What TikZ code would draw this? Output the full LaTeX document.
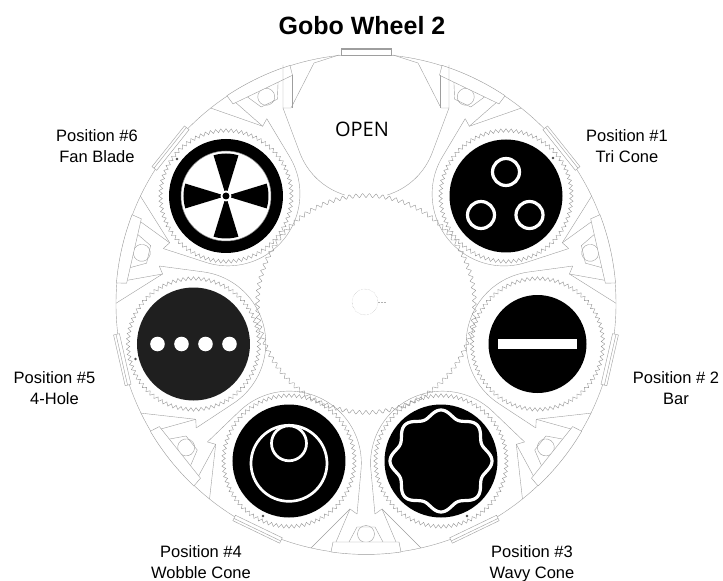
\documentclass[tikz,border=0pt]{standalone}
\usepackage{fontspec}
\setmainfont{Liberation Sans}
\newfontfamily\openfont{Open Sans}
\usetikzlibrary{calc}

\begin{document}
\begin{tikzpicture}[x=1pt,y=1pt,
    wire/.style={draw=black!38, line width=0.4pt},
    block/.style={wire, fill=white},
    gear/.style={draw=black!42, line width=0.4pt},
    disk/.style={fill=black},
    ring/.style={draw=white, line width=2.7pt},
    thickring/.style={draw=white, line width=3.2pt},
    speck/.style={fill=black!70},
    label/.style={align=center, font=\fontsize{16.5}{21}\selectfont, inner sep=0pt}
]
\useasboundingbox (-366,-277) rectangle (357,304);

\coordinate (hub) at (0,0);
\coordinate (tri) at (140,108);
\coordinate (bar) at (171.5,-40);
\coordinate (wavy) at (75,-157);
\coordinate (wobble) at (-77,-157);
\coordinate (hole) at (-172.5,-40);
\coordinate (fan) at (-140,108);

\draw[wire] (hub) circle (250);

\foreach \a/\s in {-90/1,-90/-1,-38.57/1,-38.57/-1,12.86/1,12.86/-1,64.29/1,115.71/-1,167.14/1,167.14/-1,218.57/1,218.57/-1} {
\begin{scope}[rotate=\a-90]
\draw[wire] (\s*9,210) -- (\s*16,205) -- (\s*55,244);
\draw[wire] (\s*16,205) -- (\s*30,238);
\end{scope}
}

\foreach \a in {-90,-38.57,12.86,64.29,115.71,167.14,218.57} {
\begin{scope}[rotate=\a-90]
\draw[wire] (-17,238) -- (-9,223) -- (9,223) -- (17,238);
\draw[wire] (0,230) circle (8.5);
\draw[block] (35,248) -- (33,238) -- (-33,238) -- (-35,248) arc[start angle=98,end angle=82,radius=250.5];
\end{scope}
}

\foreach \a in {-64.29,-12.86,38.57,141.43,192.86,244.29} {
\begin{scope}[rotate=\a-90]
\draw[wire] (83,193) -- (67.7,152) arc[start angle=-20,end angle=-160,radius=72] -- (-83,193);
\draw[block] (-26,247) rectangle (26,253);
\draw[wire] (-26,250.5) -- (26,250.5);
\end{scope}
}

\draw[wire] (-83,196) -- (-66.5,152) arc[start angle=200,end angle=253,radius=70];
\draw[wire] (83,196) -- (66.5,152) arc[start angle=-20,end angle=-73,radius=70];
\draw[wire] (-27,249) -- (-52,241) -- (-75,196) -- (-83,196) -- (-83,239);
\draw[wire] (-74,196) -- (-74,229);
\draw[wire] (27,249) -- (52,241) -- (75,196) -- (83,196) -- (83,239);
\draw[wire] (74,196) -- (74,229);
\draw[block] (-25,249) rectangle (25,256);
\draw[wire] (-25,254.5) -- (25,254.5);

\draw[gear] plot[smooth,domain=0:408,samples=409] ({(108.5+2*cos(90*mod(\x,4)))*cos(0.88235*\x)},{(108.5+2*cos(90*mod(\x,4)))*sin(0.88235*\x)});
\foreach \n in {tri,bar,wavy,wobble,hole,fan} {
\begin{scope}[shift={(\n)}]
\draw[gear] plot[smooth,domain=0:320,samples=321] ({(65.5+1.8*cos(90*mod(\x,4)))*cos(1.125*\x)},{(65.5+1.8*cos(90*mod(\x,4)))*sin(1.125*\x)});
\end{scope}
}

\draw[black!30, line width=0.4pt, densely dotted] (-1,2) circle (13);
\draw[black!30, line width=0.4pt, densely dotted] (12,1.5) -- (20,1.5);

\fill[disk] (tri) circle (56.5);
\draw[thickring] ($(tri)+(0,24)$) circle (13.5);
\draw[thickring] ($(tri)+(-25,-19)$) circle (13.5);
\draw[thickring] ($(tri)+(23.5,-19)$) circle (13.5);

\fill[disk] (bar) circle (49);
\fill[white] ($(bar)+(-39.5,-5.3)$) rectangle ($(bar)+(39.5,5.3)$);

\fill[disk] (wavy) circle (56.5);
\draw[thickring] plot[domain=0:360,samples=161,smooth] ({75+(47.5+3.5*cos(8*\x))*cos(\x)},{-157+(47.5+3.5*cos(8*\x))*sin(\x)}) -- cycle;

\fill[disk] (wobble) circle (56.5);
\draw[ring] ($(wobble)+(0,-2.3)$) circle (38);
\draw[ring] ($(wobble)+(0,17.7)$) circle (17.5);

\fill[black!88] (hole) circle (56.5);
\foreach \h in {-36,-12,12,36} {
\fill[white] ($(hole)+(\h,0)$) circle (7.3);
}

\fill[disk] (fan) circle (57);
\filldraw[fill=white, draw=black!45, line width=0.5pt] (fan) circle (45);
\foreach \t in {0,90,180,270} {
\begin{scope}[shift={(fan)}, rotate=\t]
\fill[disk] (0,0) -- (-17:42.5) arc[start angle=-17,end angle=17,radius=42.5] -- cycle;
\end{scope}
}
\fill[white] (fan) circle (5.5);
\fill[disk] (fan) circle (3.5);

\fill[speck] ($(tri)+(47,38)$) circle (1.3);
\fill[speck] ($(fan)+(-49,37)$) circle (1.3);
\fill[speck] ($(wavy)+(26,-55)$) circle (1.3);
\fill[speck] ($(wobble)+(-26,-55)$) circle (1.3);
\fill[speck] ($(hole)+(-58,-15)$) circle (1.3);

\node[font=\bfseries\fontsize{25}{28}\selectfont, inner sep=0pt] (title) at (-4,278) {Gobo Wheel 2};
\node[font=\openfont\fontsize{20}{23}\selectfont, inner sep=0pt] (openlabel) at (-4,175) {OPEN};
\node[label] (pos1) at (261,158) {Position \#1\\Tri Cone};
\node[label] (pos2) at (310,-84.5) {Position \# 2\\Bar};
\node[label] (pos3) at (166,-260) {Position \#3\\Wavy Cone};
\node[label] (pos4) at (-165,-258) {Position \#4\\Wobble Cone};
\node[label] (pos5) at (-311.5,-84.5) {Position \#5\\4-Hole};
\node[label] (pos6) at (-269,158) {Position \#6\\Fan Blade};
\end{tikzpicture}
\end{document}
